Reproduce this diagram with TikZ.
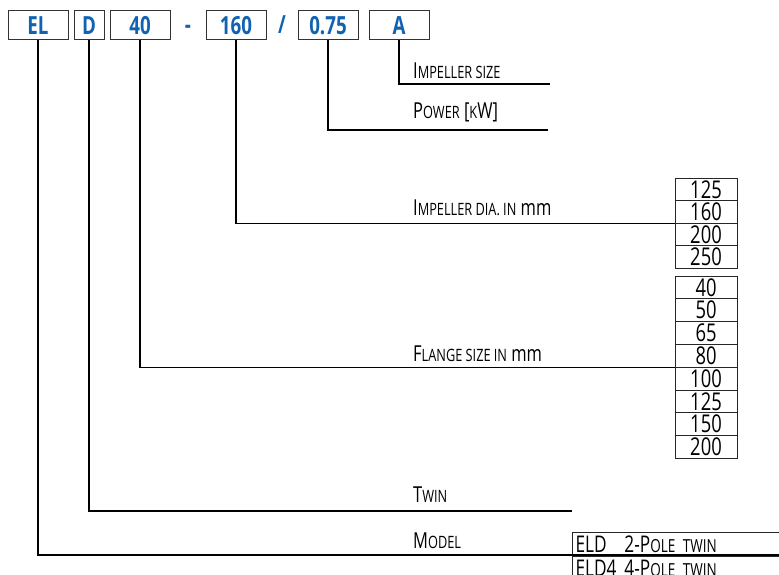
\documentclass[tikz,border=0pt]{standalone}
\usepackage{fontspec}
\setmainfont{Open Sans}[FakeStretch=0.75]
\usetikzlibrary{positioning,calc}
\definecolor{codeblue}{RGB}{16,98,178}
\newcommand\smc[1]{{\fontsize{17}{18}\selectfont #1}}
\newcommand\smcb[1]{{\fontsize{18}{19}\selectfont #1}}
\tikzset{
  codebox/.style={draw=black!80, line width=1pt, minimum width=60pt, minimum height=29pt,
    inner sep=0pt, text=codeblue, font=\bfseries\fontsize{25}{26}\selectfont},
  codesep/.style={inner sep=0pt, anchor=base, text=codeblue, font=\bfseries\fontsize{25}{26}\selectfont},
  lead/.style={draw=black, line width=1.2pt},
  sizecell/.style={draw=black!85, line width=1pt, minimum width=62pt, inner sep=0pt,
    font=\fontsize{24.5}{25}\selectfont},
  modelcell/.style={draw=black!85, line width=1pt, minimum height=23pt, text width=224pt,
    align=left, inner sep=3pt, anchor=north west, font=\fontsize{23}{24}\selectfont},
  tag/.style={anchor=base west, inner sep=0pt, font=\fontsize{22}{23}\selectfont}
}
\begin{document}
\begin{tikzpicture}[x=1pt,y=-1pt]
  \clip (0,0) rectangle (779,575);
  % type code
  \node[codebox] (el) at (38,25.5) {EL};
  \node[codebox, minimum width=30pt, right=5pt of el] (d) {D};
  \node[codebox, right=5pt of d] (n40) {40};
  \node[codebox, right=35pt of n40] (n160) {160};
  \node[codesep] (dash) at ($(n40.east)!0.5!(n160.west)+(0,8.5)$) {-};
  \node[codebox, right=31pt of n160] (n075) {0.75};
  \node[codesep] (slash) at ($(n160.east)!0.5!(n075.west)+(0,8.5)$) {/};
  \node[codebox, right=10pt of n075] (a) {A};

  % size tables
  \foreach \val [count=\i] in {125,160,200,250}
    \node[sizecell, minimum height=22.5pt] (dia\i) at (706,{178+(\i-0.5)*22.5}) {\val};
  \foreach \val [count=\i] in {40,50,65,80,100,125,150,200}
    \node[sizecell, minimum height=22.8pt] (flange\i) at (706,{276+(\i-0.5)*22.8}) {\val};
  \node[modelcell] (eld1) at (572,532) {\makebox[49pt][l]{ELD}2-P\smcb{OLE TWIN}};
  \node[modelcell] (eld2) at (eld1.south west) {\makebox[49pt][l]{ELD4}4-P\smcb{OLE TWIN}};

  % leads
  \coordinate (sizeend) at (550,84);
  \coordinate (powerend) at (548,130);
  \coordinate (twinend) at (572,511);
  \coordinate (modelend) at (779,555);
  \draw[lead] (a.south) |- (sizeend);
  \draw[lead] (n075.south) |- (powerend);
  \draw[lead] (n160.south) |- (dia2.south west);
  \draw[lead] (n40.south) |- (flange4.south west);
  \draw[lead] (d.south) |- (twinend);
  \draw[lead] (el.south) |- (modelend);

  % labels
  \node[tag] (sizetag) at (413,78.5) {I\smc{MPELLER SIZE}};
  \node[tag] (powertag) at (413,118.5) {P\smc{OWER} [\smc{K}W]};
  \node[tag] (diatag) at (413,215) {I\smc{MPELLER DIA. IN} mm};
  \node[tag] (flangetag) at (413,361) {F\smc{LANGE SIZE IN} mm};
  \node[tag] (twintag) at (413,502) {T\smc{WIN}};
  \node[tag] (modeltag) at (413,548) {M\smc{ODEL}};
\end{tikzpicture}
\end{document}
